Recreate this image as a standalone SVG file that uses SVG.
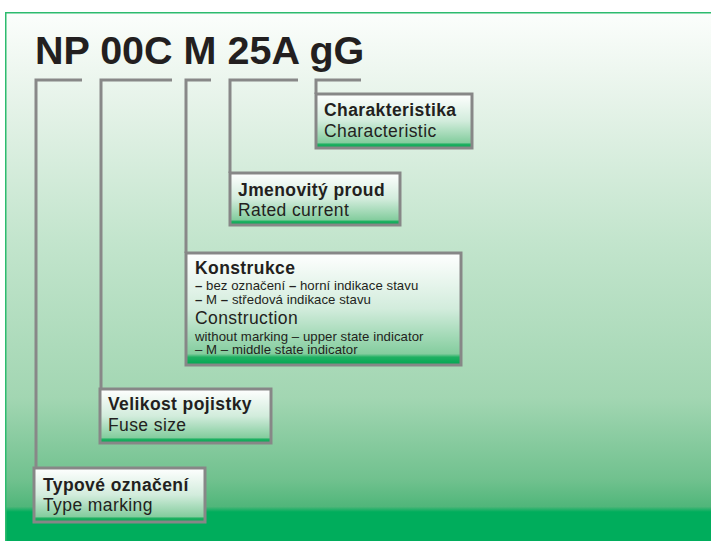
<svg xmlns="http://www.w3.org/2000/svg" width="711" height="541" viewBox="0 0 711 541">
<defs>
<linearGradient id="bg" x1="0" y1="0" x2="0" y2="1">
<stop offset="0" stop-color="#fcfefc"/>
<stop offset="0.17" stop-color="#e6f3e9"/>
<stop offset="0.43" stop-color="#c3e5cd"/>
<stop offset="0.73" stop-color="#a2d6b2"/>
<stop offset="0.885" stop-color="#70c18e"/>
<stop offset="0.935" stop-color="#50b67a"/>
<stop offset="0.945" stop-color="#00ad5c"/>
<stop offset="1" stop-color="#00ad5c"/>
</linearGradient>
<linearGradient id="box" x1="0" y1="0" x2="0" y2="1">
<stop offset="0" stop-color="#ffffff"/>
<stop offset="0.5" stop-color="#d2ecdc"/>
<stop offset="0.9" stop-color="#84cd9e"/>
<stop offset="0.93" stop-color="#1fb062"/>
<stop offset="1" stop-color="#00a651"/>
</linearGradient>
<style>
.box{fill:url(#box);stroke:#878787;stroke-width:3}
.conn{fill:none;stroke:#888888;stroke-width:3}
.h{font-family:"Liberation Sans",Arial,sans-serif;font-weight:bold;font-size:17.5px;letter-spacing:0.4px;fill:#231f20}
.n{font-family:"Liberation Sans",Arial,sans-serif;font-size:17.5px;letter-spacing:0.4px;fill:#231f20}
.s{font-family:"Liberation Sans",Arial,sans-serif;font-size:13.2px;letter-spacing:0.05px;fill:#231f20}
.b{font-weight:bold}
.title{font-family:"Liberation Sans",Arial,sans-serif;font-weight:bold;font-size:39.5px;fill:#231f20}
</style>
</defs>
<rect x="5" y="12" width="706" height="529" fill="url(#bg)"/>
<path d="M5.75 541 V12.75 H711" fill="none" stroke="#2dbb6e" stroke-width="1.5"/>
<text class="title" x="35" y="64">NP 00C M 25A gG</text>
<g id="connectors">
<path class="conn" d="M82 80 H36 V468"/>
<path class="conn" d="M172 80 H101 V389"/>
<path class="conn" d="M211 80 H186 V253"/>
<path class="conn" d="M298 80 H230 V173"/>
<path class="conn" d="M361 80 H316 V94"/>
</g>
<g id="charakteristika">
<rect class="box" x="316" y="94" width="156" height="54"/>
<text class="h" x="324" y="116">Charakteristika</text>
<text class="n" x="324" y="137">Characteristic</text>
</g>
<g id="jmenovity">
<rect class="box" x="230" y="173" width="170" height="52"/>
<text class="h" x="238" y="195.5">Jmenovitý proud</text>
<text class="n" x="238" y="216">Rated current</text>
</g>
<g id="konstrukce">
<rect class="box" x="186" y="253" width="275" height="112"/>
<text class="h" x="195" y="274">Konstrukce</text>
<text class="s" x="195" y="290"><tspan class="b">–</tspan> bez označení <tspan class="b">–</tspan> horní indikace stavu</text>
<text class="s" x="195" y="304"><tspan class="b">–</tspan> M <tspan class="b">–</tspan> středová indikace stavu</text>
<text class="n" x="195" y="324">Construction</text>
<text class="s" x="195" y="340.5">without marking – upper state indicator</text>
<text class="s" x="195" y="354">– M – middle state indicator</text>
</g>
<g id="velikost">
<rect class="box" x="100" y="389" width="171" height="54"/>
<text class="h" x="108" y="410">Velikost pojistky</text>
<text class="n" x="108" y="431">Fuse size</text>
</g>
<g id="typove">
<rect class="box" x="34" y="468" width="171" height="54"/>
<text class="h" x="43" y="490.5">Typové označení</text>
<text class="n" x="43" y="511">Type marking</text>
</g>
</svg>
